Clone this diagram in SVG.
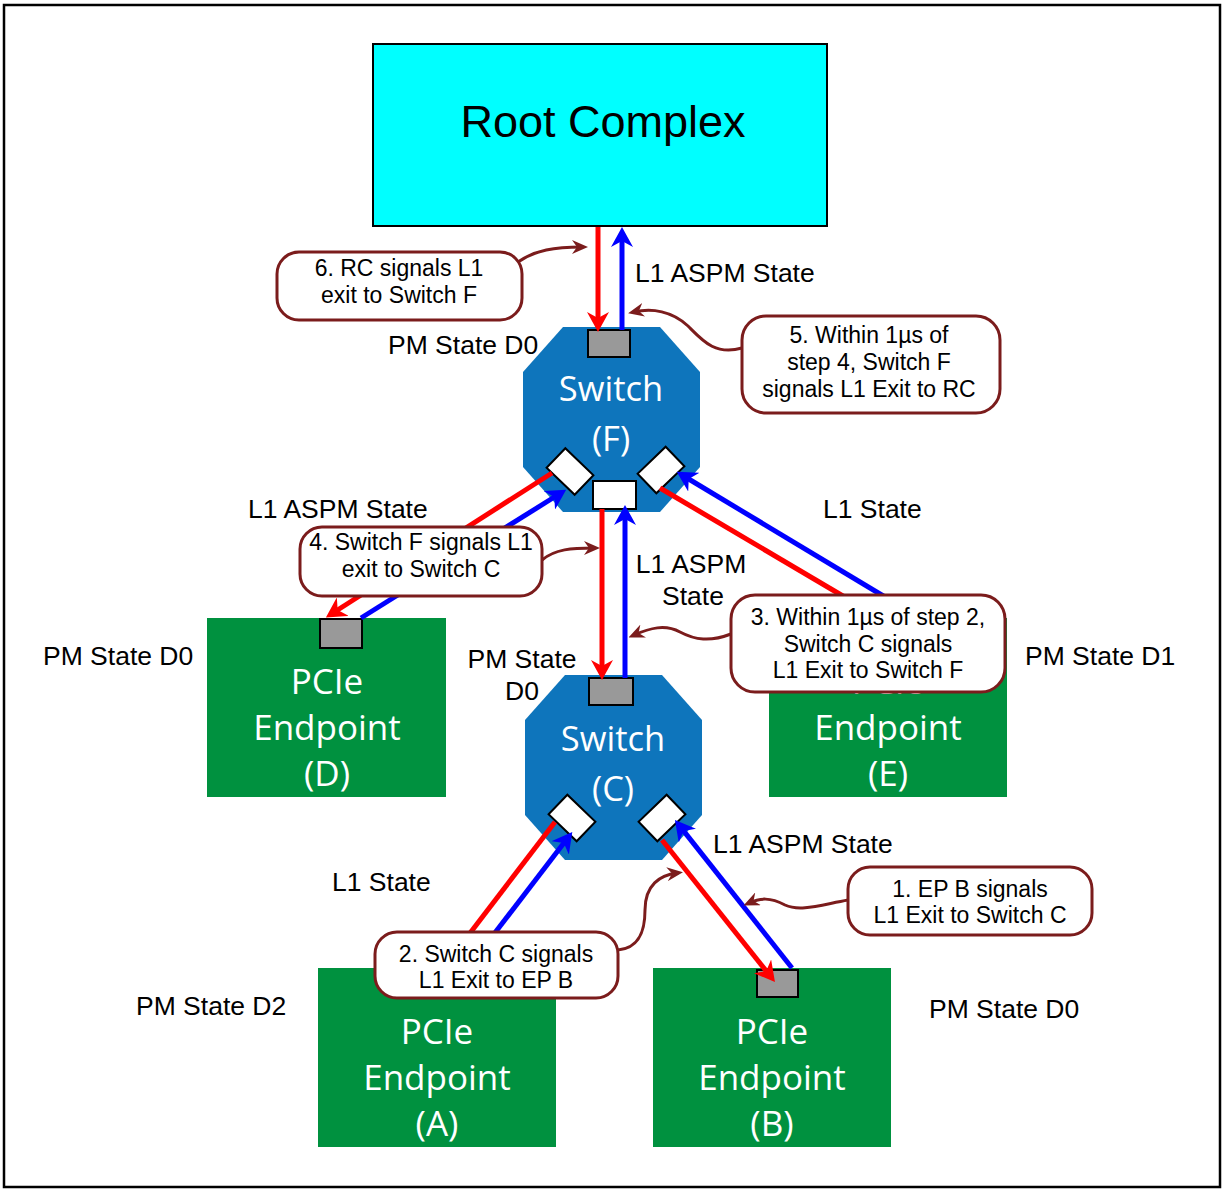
<svg xmlns="http://www.w3.org/2000/svg" width="1226" height="1192" viewBox="0 0 1226 1192">
<style>
.lbl{font-family:"Liberation Sans",Arial,sans-serif;font-size:26.5px;fill:#000}
.pm{font-family:"Liberation Sans",Arial,sans-serif;font-size:26.5px;fill:#000}
.ct{font-family:"Liberation Sans",Arial,sans-serif;font-size:23px;fill:#000;text-anchor:middle}
.nt{font-family:"Open Sans","Noto Sans",sans-serif;font-size:35px;fill:#fff;text-anchor:middle}
.st{font-family:"Open Sans","Noto Sans",sans-serif;font-size:34.5px;fill:#fff;text-anchor:middle}
.sw{fill:#0E75BC}
.ep{fill:#00913F}
.port{fill:#999;stroke:#000;stroke-width:2}
.wport{fill:#fff;stroke:#000;stroke-width:2}
.callout{fill:#fff;stroke:#7B1C1C;stroke-width:3}
.red{stroke:#FF0000;stroke-width:5;fill:none;marker-end:url(#ar)}
.blue{stroke:#0000FF;stroke-width:5;fill:none;marker-end:url(#ab)}
.lead{stroke:#7B1C1C;stroke-width:3;fill:none;marker-end:url(#ad)}
</style>
<defs>
<marker id="ar" viewBox="0 0 20 22" refX="8" refY="11" markerWidth="20" markerHeight="22" markerUnits="userSpaceOnUse" orient="auto"><path d="M0,0 L20,11 L0,22 L6,11 Z" fill="#FF0000"/></marker>
<marker id="ab" viewBox="0 0 20 22" refX="8" refY="11" markerWidth="20" markerHeight="22" markerUnits="userSpaceOnUse" orient="auto"><path d="M0,0 L20,11 L0,22 L6,11 Z" fill="#0000FF"/></marker>
<marker id="ad" viewBox="0 0 16 14" refX="10" refY="7" markerWidth="16" markerHeight="14" markerUnits="userSpaceOnUse" orient="auto"><path d="M0,0 L16,7 L0,14 L5,7 Z" fill="#7B1C1C"/></marker>
</defs>
<rect x="4" y="5" width="1216" height="1182" fill="#fff" stroke="#000" stroke-width="2.5"/>

<g id="root-complex">
<rect x="373" y="44" width="454" height="182" fill="#00FFFF" stroke="#000" stroke-width="2"/>
<text x="603" y="137" font-family="Liberation Sans,Arial,sans-serif" font-size="45" text-anchor="middle">Root Complex</text>
</g>

<g id="switch-f">
<polygon class="sw" points="563,327 660,327 700,372 700,467 660,512 563,512 523,467 523,372"/>
<rect class="port" x="588" y="330" width="42" height="27"/>
<text class="st" x="611" y="401">Switch</text>
<text class="st" x="611" y="451">(F)</text>
<rect class="wport" x="-19.5" y="-13.5" width="39" height="27" transform="translate(570,471.5) rotate(44)"/>
<rect class="wport" x="-19.5" y="-13.5" width="39" height="27" transform="translate(661,470) rotate(-44)"/>
<rect class="wport" x="593" y="481" width="43" height="28"/>
</g>

<g id="switch-c">
<polygon class="sw" points="565,675 662,675 702,720 702,815 662,860 565,860 525,815 525,720"/>
<rect class="port" x="589" y="678" width="44" height="27"/>
<text class="st" x="613" y="751">Switch</text>
<text class="st" x="613" y="801">(C)</text>
<rect class="wport" x="-19.5" y="-13.5" width="39" height="27" transform="translate(572,818) rotate(44)"/>
<rect class="wport" x="-19.5" y="-13.5" width="39" height="27" transform="translate(662,818) rotate(-44)"/>
</g>

<g id="endpoint-d">
<rect class="ep" x="207" y="618" width="239" height="179"/>
<rect class="port" x="320" y="619" width="42" height="29"/>
<text class="nt" x="327" y="694">PCIe</text>
<text class="nt" x="327" y="740">Endpoint</text>
<text class="nt" x="327" y="786">(D)</text>
</g>

<g id="endpoint-e">
<rect class="ep" x="769" y="618" width="238" height="179"/>
<text class="nt" x="888" y="694">PCIe</text>
<text class="nt" x="888" y="740">Endpoint</text>
<text class="nt" x="888" y="786">(E)</text>
</g>

<g id="endpoint-a">
<rect class="ep" x="318" y="968" width="238" height="179"/>
<text class="nt" x="437" y="1044">PCIe</text>
<text class="nt" x="437" y="1090">Endpoint</text>
<text class="nt" x="437" y="1136">(A)</text>
</g>

<g id="endpoint-b">
<rect class="ep" x="653" y="968" width="238" height="179"/>
<rect class="port" x="757" y="970" width="41" height="27"/>
<text class="nt" x="772" y="1044">PCIe</text>
<text class="nt" x="772" y="1090">Endpoint</text>
<text class="nt" x="772" y="1136">(B)</text>
</g>

<g id="connectors">
<line class="red" x1="598" y1="227" x2="598" y2="320"/>
<line class="blue" x1="622" y1="330" x2="622" y2="239"/>
<line class="red" x1="602" y1="509" x2="602" y2="668"/>
<line class="blue" x1="625" y1="678" x2="625" y2="517"/>
<line class="red" x1="552" y1="473" x2="336" y2="611"/>
<line class="blue" x1="361" y1="618" x2="556" y2="496"/>
<line class="red" x1="660" y1="488" x2="870" y2="612"/>
<line class="blue" x1="900" y1="606" x2="687" y2="478"/>
<line class="red" x1="555" y1="822" x2="451" y2="958"/>
<line class="blue" x1="468" y1="968" x2="565" y2="841.5"/>
<line class="red" x1="662" y1="840" x2="767.5" y2="972.6"/>
<line class="blue" x1="792" y1="968" x2="682.4" y2="829.4"/>
<path class="lead" d="M518,262 C535,250 555,247 582,247"/>
<path class="lead" d="M742,348 C715,356 702,340 688,326 C672,311 652,308 634,312"/>
<path class="lead" d="M542,560 C555,549 572,548 594,548"/>
<path class="lead" d="M731,634 C710,642 695,640 680,632 C665,624 650,628 634,635"/>
<path class="lead" d="M618,950 C640,948 645,930 645,910 C645,885 660,875 677,873"/>
<path class="lead" d="M848,900 C820,905 800,912 785,905 C770,897 760,898 749,903"/>
</g>

<g id="callout-6">
<rect class="callout" x="277" y="252" width="245" height="68" rx="22"/>
<text class="ct" x="399" y="276">6. RC signals L1</text>
<text class="ct" x="399" y="303">exit to Switch F</text>
</g>
<g id="callout-5">
<rect class="callout" x="742" y="316" width="258" height="97" rx="24"/>
<text class="ct" x="869" y="343">5. Within 1µs of</text>
<text class="ct" x="869" y="370">step 4, Switch F</text>
<text class="ct" x="869" y="397">signals L1 Exit to RC</text>
</g>
<g id="callout-4">
<rect class="callout" x="300" y="527" width="242" height="69" rx="22"/>
<text class="ct" x="421" y="550">4. Switch F signals L1</text>
<text class="ct" x="421" y="577">exit to Switch C</text>
</g>
<g id="callout-3">
<rect class="callout" x="731" y="595" width="274" height="97" rx="24"/>
<text class="ct" x="868" y="625">3. Within 1µs of step 2,</text>
<text class="ct" x="868" y="652">Switch C signals</text>
<text class="ct" x="868" y="678">L1 Exit to Switch F</text>
</g>
<g id="callout-2">
<rect class="callout" x="375" y="932" width="243" height="66" rx="22"/>
<text class="ct" x="496" y="962">2. Switch C signals</text>
<text class="ct" x="496" y="988">L1 Exit to EP B</text>
</g>
<g id="callout-1">
<rect class="callout" x="848" y="867" width="244" height="68" rx="22"/>
<text class="ct" x="970" y="897">1. EP B signals</text>
<text class="ct" x="970" y="923">L1 Exit to Switch C</text>
</g>

<g id="labels">
<text class="lbl" x="635" y="282">L1 ASPM State</text>
<text class="pm" x="388" y="354">PM State D0</text>
<text class="lbl" x="248" y="518">L1 ASPM State</text>
<text class="lbl" x="823" y="518">L1 State</text>
<text class="lbl" x="691" y="573" text-anchor="middle">L1 ASPM</text>
<text class="lbl" x="693" y="605" text-anchor="middle">State</text>
<text class="pm" x="43" y="665">PM State D0</text>
<text class="pm" x="522" y="668" text-anchor="middle">PM State</text>
<text class="pm" x="522" y="700" text-anchor="middle">D0</text>
<text class="pm" x="1025" y="665">PM State D1</text>
<text class="lbl" x="713" y="853">L1 ASPM State</text>
<text class="lbl" x="332" y="891">L1 State</text>
<text class="pm" x="136" y="1015">PM State D2</text>
<text class="pm" x="929" y="1018">PM State D0</text>
</g>
</svg>
